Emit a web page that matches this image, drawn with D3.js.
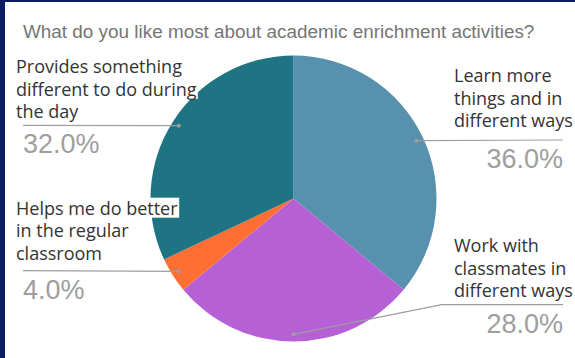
<!DOCTYPE html>
<html>
<head>
<meta charset="utf-8">
<script src="https://cdn.jsdelivr.net/npm/d3@7"></script>
<style>
  html, body { margin: 0; padding: 0; background: #fff; }
  svg { display: block; }
</style>
</head>
<body>
<div id="chart"></div>
<script>
// data ---------------------------------------------------------------
const titleText = 'What do you like most about academic enrichment activities?';
const categories = [
  'Learn more things and in different ways',
  'Work with classmates in different ways',
  'Helps me do better in the regular classroom',
  'Provides something different to do during the day'
];
const labelLines = [
  ['Learn more', 'things and in', 'different ways'],
  ['Work with', 'classmates in', 'different ways'],
  ['Helps me do better', 'in the regular', 'classroom'],
  ['Provides something', 'different to do during', 'the day']
];
const values = [36, 28, 4, 32];
const colors = ['#5791ad', '#b660d6', '#ff6f33', '#1e7483'];

// layout ---------------------------------------------------------------
const width = 575, height = 358;
const cx = 293.5, cy = 198.5, radius = 143;
// leader line y and side per slice
const lineY = [140, 304.7, 270.7, 125.4];
const side = ['right', 'right', 'left', 'left'];
const textGap = [13, 7.5, 11, 7];
const lineH = 22.5;

const svg = d3.select('#chart').append('svg')
  .attr('width', width)
  .attr('height', height);

// frame
svg.append('rect').attr('x', 0).attr('y', 0).attr('width', width).attr('height', 2).attr('fill', '#0b1c64');
svg.append('rect').attr('x', 0).attr('y', 0).attr('width', 5).attr('height', height).attr('fill', '#0b1c64');

// title
svg.append('text')
  .attr('x', 23)
  .attr('y', 38)
  .attr('font-family', '"Liberation Sans", Arial, sans-serif')
  .attr('font-size', '18.9px')
  .attr('fill', '#757575')
  .text(titleText);

// pie
const pie = d3.pie().sort(null).value(d => d);
const arcs = pie(values);
const arc = d3.arc().innerRadius(0).outerRadius(radius);
const dotArc = d3.arc().innerRadius(radius * 0.95).outerRadius(radius * 0.95);

const g = svg.append('g').attr('transform', 'translate(' + cx + ',' + cy + ')');
g.selectAll('path')
  .data(arcs)
  .enter()
  .append('path')
  .attr('d', arc)
  .attr('fill', (d, i) => colors[i])
  .attr('stroke', 'none');

// labels
const labelG = svg.append('g');
arcs.forEach((d, i) => {
  const c = dotArc.centroid(d);
  const px = cx + c[0], py = cy + c[1];
  const ly = lineY[i];
  const isRight = side[i] === 'right';
  const endX = isRight ? 563 : 23;
  const textX = isRight ? 454 : 16;

  // leader line
  let pts;
  if (Math.abs(py - ly) < 1) {
    pts = [[px, py], [endX, ly]];
  } else {
    const elbowX = isRight ? 441.7 : px - 15;
    pts = [[px, py], [elbowX, ly], [endX, ly]];
  }
  labelG.append('path')
    .attr('d', d3.line()(pts))
    .attr('fill', 'none')
    .attr('stroke', '#9e9e9e')
    .attr('stroke-width', 1.2);
  labelG.append('circle')
    .attr('cx', px)
    .attr('cy', py)
    .attr('r', 2)
    .attr('fill', '#9e9e9e');

  // category text with white background
  const lines = labelLines[i];
  lines.forEach((t, j) => {
    const by = ly - textGap[i] - (lines.length - 1 - j) * lineH;
    const bg = labelG.append('rect').attr('fill', '#fff');
    const txt = labelG.append('text')
      .attr('x', textX)
      .attr('y', by)
      .attr('font-family', '"Open Sans", sans-serif')
      .attr('font-size', '18px')
      .attr('fill', '#333333')
      .text(t);
    if (!isRight) {
      const bb = txt.node().getBBox();
      bg.attr('x', bb.x).attr('y', bb.y + 2).attr('width', bb.width + 1).attr('height', bb.height - 4);
    } else {
      bg.remove();
    }
  });

  // percentage
  labelG.append('text')
    .attr('x', endX)
    .attr('y', ly + 28)
    .attr('text-anchor', isRight ? 'end' : 'start')
    .attr('font-family', '"Liberation Sans", Arial, sans-serif')
    .attr('font-size', '27px')
    .attr('fill', '#9e9e9e')
    .text(d3.format('.1f')(values[i]) + '%');
});
</script>
</body>
</html>
